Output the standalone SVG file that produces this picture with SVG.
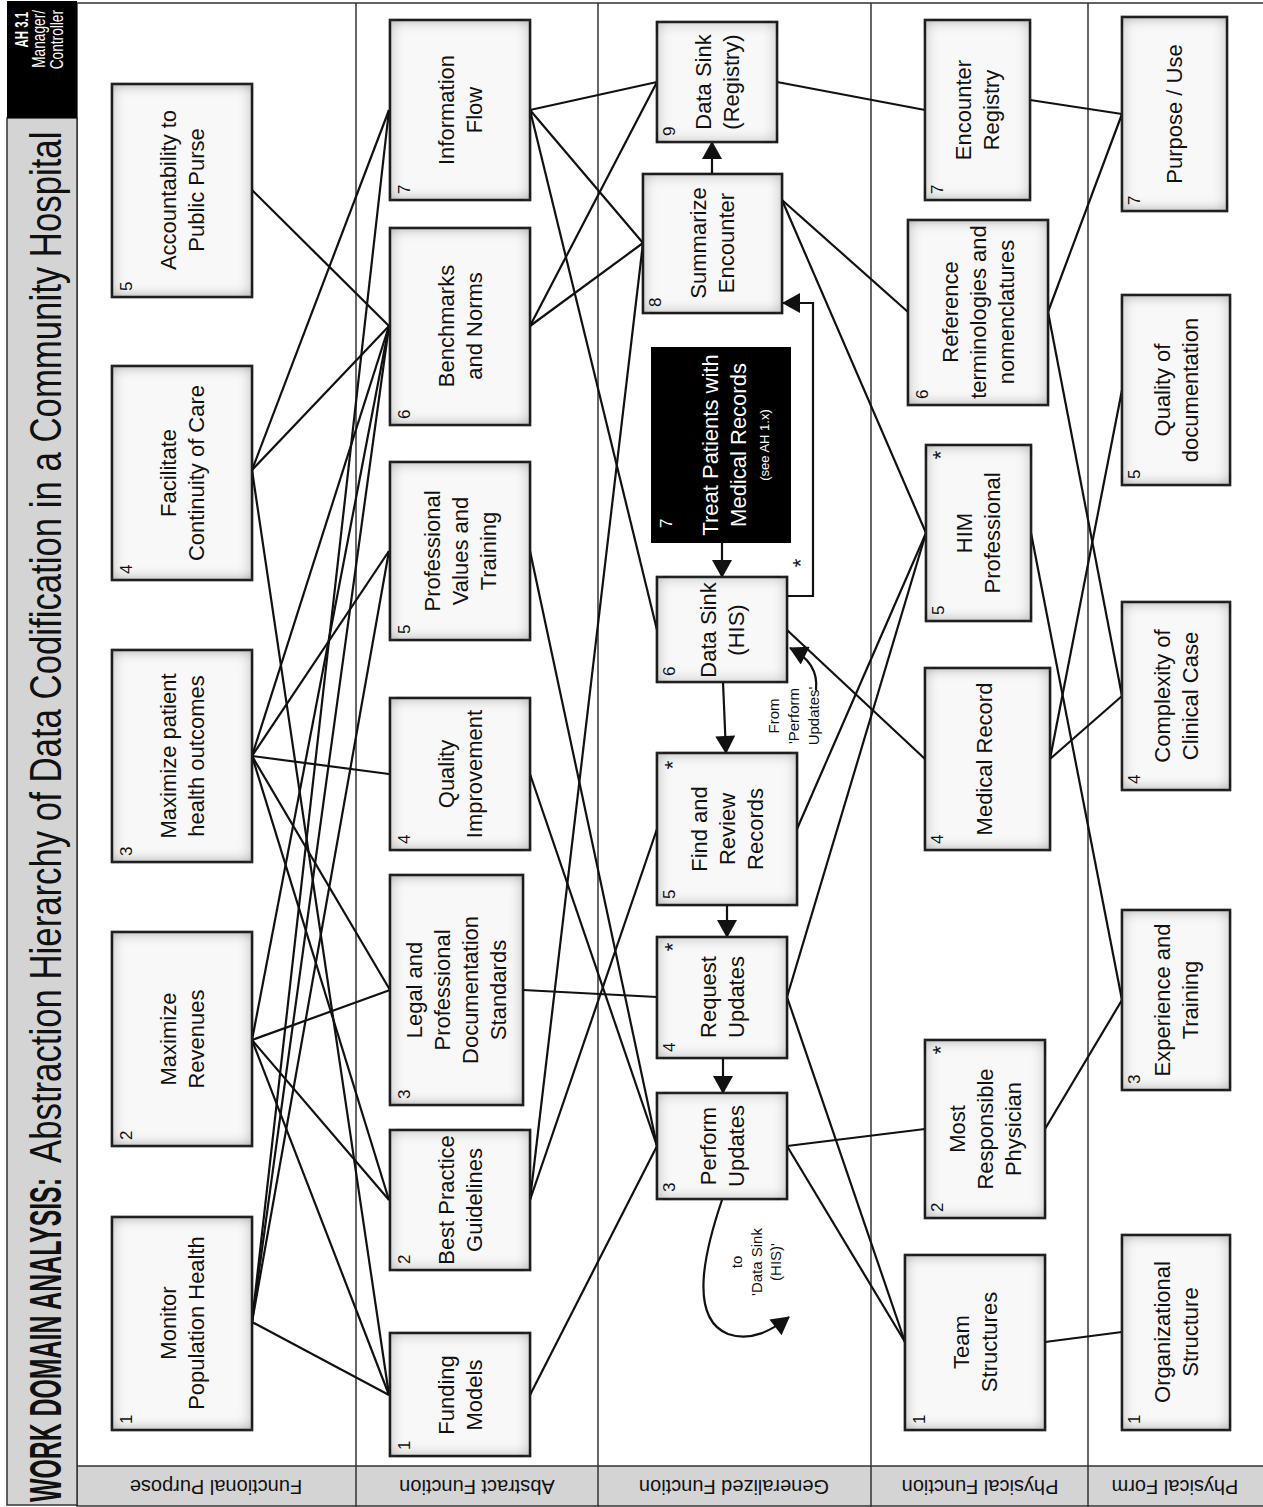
<svg xmlns="http://www.w3.org/2000/svg" width="1263" height="1507" viewBox="0 0 1263 1507">
<style>
.box{fill:#f8f8f8;stroke:#222;stroke-width:2.5;filter:url(#inner)}
.t{font-family:"Liberation Sans",Arial,sans-serif;font-size:22px;fill:#111;text-anchor:middle}
.n{font-family:"Liberation Sans",Arial,sans-serif;font-size:17px;fill:#111}
.s{font-family:"Liberation Sans",Arial,sans-serif;font-size:15px;fill:#111;text-anchor:middle}
.ast{font-family:"Liberation Sans",Arial,sans-serif;font-size:22px;fill:#111;text-anchor:middle}
.lane{font-family:"Liberation Sans",Arial,sans-serif;font-size:20px;fill:#111;text-anchor:middle}
.c line,.c polyline,.c path{stroke:#111;stroke-width:2.2;fill:none}
.nar{font-family:"Liberation Sans",Arial,sans-serif}
</style>
<defs>
<filter id="inner" x="-5%" y="-5%" width="110%" height="110%">
<feFlood flood-color="#222"/>
<feComposite in2="SourceAlpha" operator="out" result="outside"/>
<feGaussianBlur in="outside" stdDeviation="7" result="blur"/>
<feComposite in="blur" in2="SourceAlpha" operator="in" result="inner"/>
<feMerge><feMergeNode in="SourceGraphic"/><feMergeNode in="inner"/></feMerge>
</filter>
<marker id="arr" markerUnits="userSpaceOnUse" markerWidth="20" markerHeight="20" viewBox="0 0 18 20" refX="17" refY="10" orient="auto">
<path d="M0,0 L18,10 L0,20 z" fill="#111"/>
</marker>
</defs>

<!-- frame -->
<g id="frame">
<rect x="77" y="3" width="1190" height="1502" fill="#fff" stroke="#333" stroke-width="1.5"/>
<rect x="77" y="1466" width="1190" height="40" fill="#d4d4d4" stroke="#333" stroke-width="1.5"/>
<line x1="356" y1="3" x2="356" y2="1507" stroke="#333" stroke-width="1.5"/>
<line x1="598" y1="3" x2="598" y2="1507" stroke="#333" stroke-width="1.5"/>
<line x1="871" y1="3" x2="871" y2="1507" stroke="#333" stroke-width="1.5"/>
<line x1="1088" y1="3" x2="1088" y2="1507" stroke="#333" stroke-width="1.5"/>
<rect x="7" y="118" width="70" height="1387" fill="#d4d4d4" stroke="#333" stroke-width="1.5"/>
<rect x="7" y="1" width="70" height="117" fill="#000"/>
<text class="nar" transform="translate(61,1502) rotate(-90) scale(0.565,1)" font-size="44" font-weight="bold" fill="#111">WORK DOMAIN ANALYSIS:</text>
<text class="nar" transform="translate(61,1163) rotate(-90) scale(0.79,1)" font-size="44" fill="#111">Abstraction Hierarchy of Data Codification in a Community Hospital</text>
<text class="nar" transform="translate(28,12) rotate(-90) scale(0.6,1)" font-size="19" font-weight="bold" fill="#fff" text-anchor="end">AH 3.1</text>
<text class="nar" transform="translate(45,10) rotate(-90) scale(0.72,1)" font-size="19" fill="#fff" text-anchor="end">Manager/</text>
<text class="nar" transform="translate(63,10) rotate(-90) scale(0.72,1)" font-size="19" fill="#fff" text-anchor="end">Controller</text>
<text class="lane" transform="translate(216,1480) rotate(180)">Functional Purpose</text>
<text class="lane" transform="translate(477,1480) rotate(180)">Abstract Function</text>
<text class="lane" transform="translate(734,1480) rotate(180)">Generalized Function</text>
<text class="lane" transform="translate(980,1480) rotate(180)">Physical Function</text>
<text class="lane" transform="translate(1175,1480) rotate(180)">Physical Form</text>
</g>

<!-- connectors -->
<g id="connectors" class="c">
<!-- FP to AF -->
<line x1="252" y1="190" x2="389" y2="326"/>
<line x1="252" y1="470" x2="389" y2="326"/>
<line x1="252" y1="756" x2="389" y2="326"/>
<line x1="252" y1="1040" x2="389" y2="326"/>
<line x1="252" y1="1322" x2="389" y2="326"/>
<line x1="252" y1="470" x2="389" y2="110"/>
<line x1="252" y1="1322" x2="389" y2="110"/>
<line x1="252" y1="756" x2="389" y2="551"/>
<line x1="252" y1="1322" x2="389" y2="551"/>
<line x1="252" y1="756" x2="389" y2="774"/>
<line x1="252" y1="756" x2="390" y2="990"/>
<line x1="252" y1="1040" x2="390" y2="990"/>
<line x1="252" y1="756" x2="389" y2="1200"/>
<line x1="252" y1="1040" x2="389" y2="1200"/>
<line x1="252" y1="470" x2="389" y2="1395"/>
<line x1="252" y1="1040" x2="389" y2="1395"/>
<line x1="252" y1="1322" x2="389" y2="1395"/>
<!-- AF to GF -->
<line x1="530" y1="110" x2="657" y2="82"/>
<line x1="530" y1="110" x2="643" y2="243"/>
<line x1="530" y1="110" x2="657" y2="630"/>
<line x1="530" y1="326" x2="657" y2="82"/>
<line x1="530" y1="326" x2="643" y2="243"/>
<line x1="530" y1="551" x2="657" y2="1146"/>
<line x1="530" y1="774" x2="657" y2="1146"/>
<line x1="523" y1="990" x2="657" y2="997"/>
<line x1="530" y1="1200" x2="657" y2="829"/>
<line x1="530" y1="1200" x2="643" y2="243"/>
<line x1="530" y1="1395" x2="657" y2="1146"/>
<!-- GF to PF -->
<line x1="787" y1="1146" x2="925" y2="1129"/>
<line x1="787" y1="1146" x2="905" y2="1342"/>
<line x1="787" y1="997" x2="905" y2="1342"/>
<line x1="787" y1="997" x2="926" y2="533"/>
<line x1="797" y1="829" x2="926" y2="533"/>
<line x1="787" y1="630" x2="925" y2="759"/>
<line x1="782" y1="200" x2="908" y2="312"/>
<line x1="782" y1="200" x2="926" y2="533"/>
<line x1="777" y1="82" x2="925" y2="110"/>
<!-- PF to PhF -->
<line x1="1045" y1="1342" x2="1122" y2="1332"/>
<line x1="1045" y1="1129" x2="1122" y2="1000"/>
<line x1="1031" y1="533" x2="1122" y2="1000"/>
<line x1="1050" y1="759" x2="1122" y2="696"/>
<line x1="1050" y1="759" x2="1122" y2="390"/>
<line x1="1048" y1="312" x2="1122" y2="696"/>
<line x1="1048" y1="312" x2="1122" y2="114"/>
<line x1="1030" y1="100" x2="1122" y2="114"/>
<!-- arrows in GF -->
<line x1="722" y1="543" x2="722" y2="577" marker-end="url(#arr)"/>
<line x1="723" y1="682" x2="726" y2="753" marker-end="url(#arr)"/>
<line x1="727" y1="905" x2="727" y2="937" marker-end="url(#arr)"/>
<line x1="723" y1="1058" x2="723" y2="1093" marker-end="url(#arr)"/>
<line x1="712" y1="174" x2="712" y2="142" marker-end="url(#arr)"/>
<polyline points="787,596 813,596 813,303 783,303" marker-end="url(#arr)"/>
<path d="M722,1200 C705,1250 688,1318 728,1334 C752,1342 772,1330 789,1317" marker-end="url(#arr)"/>
<path d="M816,690 C818,672 810,658 790,648" marker-end="url(#arr)"/>
<text class="ast" transform="translate(808,563) rotate(-90)">*</text>
<text class="s" transform="translate(742,1262) rotate(-90)">to</text>
<text class="s" transform="translate(762,1262) rotate(-90)">'Data Sink</text>
<text class="s" transform="translate(781,1262) rotate(-90)">(HIS)'</text>
<text class="s" transform="translate(779,716) rotate(-90)">From</text>
<text class="s" transform="translate(799,716) rotate(-90)">'Perform</text>
<text class="s" transform="translate(819,716) rotate(-90)">Updates'</text>
</g>

<!-- Functional Purpose -->
<g id="fp1"><rect class="box" x="112" y="1217" width="140" height="213"/><text class="n" transform="translate(132,1424) rotate(-90)">1</text><text class="t" transform="translate(175.7,1323) rotate(-90)"><tspan x="0">Monitor</tspan><tspan x="0" dy="28">Population Health</tspan></text></g>
<g id="fp2"><rect class="box" x="112" y="932" width="140" height="214"/><text class="n" transform="translate(132,1140) rotate(-90)">2</text><text class="t" transform="translate(175.7,1039) rotate(-90)"><tspan x="0">Maximize</tspan><tspan x="0" dy="28">Revenues</tspan></text></g>
<g id="fp3"><rect class="box" x="112" y="650" width="140" height="212"/><text class="n" transform="translate(132,856) rotate(-90)">3</text><text class="t" transform="translate(175.7,756) rotate(-90)"><tspan x="0">Maximize patient</tspan><tspan x="0" dy="28">health outcomes</tspan></text></g>
<g id="fp4"><rect class="box" x="112" y="366" width="140" height="214"/><text class="n" transform="translate(132,574) rotate(-90)">4</text><text class="t" transform="translate(175.7,473) rotate(-90)"><tspan x="0">Facilitate</tspan><tspan x="0" dy="28">Continuity of Care</tspan></text></g>
<g id="fp5"><rect class="box" x="112" y="84" width="140" height="213"/><text class="n" transform="translate(132,291) rotate(-90)">5</text><text class="t" transform="translate(175.7,190) rotate(-90)"><tspan x="0">Accountability to</tspan><tspan x="0" dy="28">Public Purse</tspan></text></g>

<!-- Abstract Function -->
<g id="af1"><rect class="box" x="390" y="1333" width="140" height="123"/><text class="n" transform="translate(410,1450) rotate(-90)">1</text><text class="t" transform="translate(453.7,1395) rotate(-90)"><tspan x="0">Funding</tspan><tspan x="0" dy="28">Models</tspan></text></g>
<g id="af2"><rect class="box" x="390" y="1130" width="140" height="140"/><text class="n" transform="translate(410,1264) rotate(-90)">2</text><text class="t" transform="translate(453.7,1200) rotate(-90)"><tspan x="0">Best Practice</tspan><tspan x="0" dy="28">Guidelines</tspan></text></g>
<g id="af3"><rect class="box" x="390" y="875" width="133" height="230"/><text class="n" transform="translate(410,1099) rotate(-90)">3</text><text class="t" transform="translate(422.2,990) rotate(-90)"><tspan x="0">Legal and</tspan><tspan x="0" dy="28">Professional</tspan><tspan x="0" dy="28">Documentation</tspan><tspan x="0" dy="28">Standards</tspan></text></g>
<g id="af4"><rect class="box" x="390" y="698" width="140" height="152"/><text class="n" transform="translate(410,844) rotate(-90)">4</text><text class="t" transform="translate(453.7,774) rotate(-90)"><tspan x="0">Quality</tspan><tspan x="0" dy="28">Improvement</tspan></text></g>
<g id="af5"><rect class="box" x="390" y="462" width="140" height="178"/><text class="n" transform="translate(410,634) rotate(-90)">5</text><text class="t" transform="translate(439.7,551) rotate(-90)"><tspan x="0">Professional</tspan><tspan x="0" dy="28">Values and</tspan><tspan x="0" dy="28">Training</tspan></text></g>
<g id="af6"><rect class="box" x="390" y="228" width="140" height="197"/><text class="n" transform="translate(410,419) rotate(-90)">6</text><text class="t" transform="translate(453.7,326) rotate(-90)"><tspan x="0">Benchmarks</tspan><tspan x="0" dy="28">and Norms</tspan></text></g>
<g id="af7"><rect class="box" x="390" y="20" width="140" height="180"/><text class="n" transform="translate(410,194) rotate(-90)">7</text><text class="t" transform="translate(453.7,110) rotate(-90)"><tspan x="0">Information</tspan><tspan x="0" dy="28">Flow</tspan></text></g>

<!-- Generalized Function -->
<g id="gf3"><rect class="box" x="657" y="1093" width="130" height="106"/><text class="n" transform="translate(675,1192) rotate(-90)">3</text><text class="t" transform="translate(715.7,1146) rotate(-90)"><tspan x="0">Perform</tspan><tspan x="0" dy="28">Updates</tspan></text></g>
<g id="gf4"><rect class="box" x="657" y="937" width="130" height="121"/><text class="n" transform="translate(675,1052) rotate(-90)">4</text><text class="ast" transform="translate(680,947) rotate(-90)">*</text><text class="t" transform="translate(715.7,997) rotate(-90)"><tspan x="0">Request</tspan><tspan x="0" dy="28">Updates</tspan></text></g>
<g id="gf5"><rect class="box" x="657" y="753" width="140" height="152"/><text class="n" transform="translate(675,899) rotate(-90)">5</text><text class="ast" transform="translate(680,765) rotate(-90)">*</text><text class="t" transform="translate(706.7,829) rotate(-90)"><tspan x="0">Find and</tspan><tspan x="0" dy="28">Review</tspan><tspan x="0" dy="28">Records</tspan></text></g>
<g id="gf6"><rect class="box" x="657" y="577" width="130" height="105"/><text class="n" transform="translate(675,676) rotate(-90)">6</text><text class="t" transform="translate(715.7,630) rotate(-90)"><tspan x="0">Data Sink</tspan><tspan x="0" dy="28">(HIS)</tspan></text></g>
<g id="gf7"><rect x="651" y="347" width="140" height="196" fill="#000"/><text class="n" transform="translate(672,528) rotate(-90)" style="fill:#fff">7</text><text class="t" transform="translate(718,445) rotate(-90)" style="fill:#fff"><tspan x="0">Treat Patients with</tspan><tspan x="0" dy="28">Medical Records</tspan><tspan x="0" dy="23" font-size="13">(see AH 1.x)</tspan></text></g>
<g id="gf8"><rect class="box" x="643" y="174" width="139" height="139"/><text class="n" transform="translate(661,307) rotate(-90)">8</text><text class="t" transform="translate(706.2,243) rotate(-90)"><tspan x="0">Summarize</tspan><tspan x="0" dy="28">Encounter</tspan></text></g>
<g id="gf9"><rect class="box" x="657" y="22" width="120" height="120"/><text class="n" transform="translate(675,136) rotate(-90)">9</text><text class="t" transform="translate(710.7,82) rotate(-90)"><tspan x="0">Data Sink</tspan><tspan x="0" dy="28">(Registry)</tspan></text></g>

<!-- Physical Function -->
<g id="pf1"><rect class="box" x="905" y="1255" width="140" height="175"/><text class="n" transform="translate(925,1424) rotate(-90)">1</text><text class="t" transform="translate(968.7,1342) rotate(-90)"><tspan x="0">Team</tspan><tspan x="0" dy="28">Structures</tspan></text></g>
<g id="pf2"><rect class="box" x="925" y="1040" width="120" height="178"/><text class="n" transform="translate(943,1212) rotate(-90)">2</text><text class="ast" transform="translate(948,1050) rotate(-90)">*</text><text class="t" transform="translate(964.7,1129) rotate(-90)"><tspan x="0">Most</tspan><tspan x="0" dy="28">Responsible</tspan><tspan x="0" dy="28">Physician</tspan></text></g>
<g id="pf4"><rect class="box" x="925" y="668" width="125" height="182"/><text class="n" transform="translate(943,844) rotate(-90)">4</text><text class="t" transform="translate(992,759) rotate(-90)"><tspan x="0">Medical Record</tspan></text></g>
<g id="pf5"><rect class="box" x="926" y="445" width="105" height="176"/><text class="n" transform="translate(944,615) rotate(-90)">5</text><text class="ast" transform="translate(948,455) rotate(-90)">*</text><text class="t" transform="translate(972.2,533) rotate(-90)"><tspan x="0">HIM</tspan><tspan x="0" dy="28">Professional</tspan></text></g>
<g id="pf6"><rect class="box" x="908" y="220" width="140" height="185"/><text class="n" transform="translate(928,399) rotate(-90)">6</text><text class="t" transform="translate(957.7,312) rotate(-90)"><tspan x="0">Reference</tspan><tspan x="0" dy="28">terminologies and</tspan><tspan x="0" dy="28">nomenclatures</tspan></text></g>
<g id="pf7"><rect class="box" x="925" y="20" width="105" height="180"/><text class="n" transform="translate(943,194) rotate(-90)">7</text><text class="t" transform="translate(971.2,110) rotate(-90)"><tspan x="0">Encounter</tspan><tspan x="0" dy="28">Registry</tspan></text></g>

<!-- Physical Form -->
<g id="phf1"><rect class="box" x="1122" y="1235" width="108" height="195"/><text class="n" transform="translate(1140,1424) rotate(-90)">1</text><text class="t" transform="translate(1169.7,1332) rotate(-90)"><tspan x="0">Organizational</tspan><tspan x="0" dy="28">Structure</tspan></text></g>
<g id="phf3"><rect class="box" x="1122" y="910" width="108" height="180"/><text class="n" transform="translate(1140,1084) rotate(-90)">3</text><text class="t" transform="translate(1169.7,1000) rotate(-90)"><tspan x="0">Experience and</tspan><tspan x="0" dy="28">Training</tspan></text></g>
<g id="phf4"><rect class="box" x="1122" y="602" width="108" height="188"/><text class="n" transform="translate(1140,784) rotate(-90)">4</text><text class="t" transform="translate(1169.7,696) rotate(-90)"><tspan x="0">Complexity of</tspan><tspan x="0" dy="28">Clinical Case</tspan></text></g>
<g id="phf5"><rect class="box" x="1122" y="295" width="108" height="190"/><text class="n" transform="translate(1140,479) rotate(-90)">5</text><text class="t" transform="translate(1169.7,390) rotate(-90)"><tspan x="0">Quality of</tspan><tspan x="0" dy="28">documentation</tspan></text></g>
<g id="phf7"><rect class="box" x="1122" y="17" width="105" height="194"/><text class="n" transform="translate(1140,205) rotate(-90)">7</text><text class="t" transform="translate(1182,114) rotate(-90)"><tspan x="0">Purpose / Use</tspan></text></g>
</svg>
